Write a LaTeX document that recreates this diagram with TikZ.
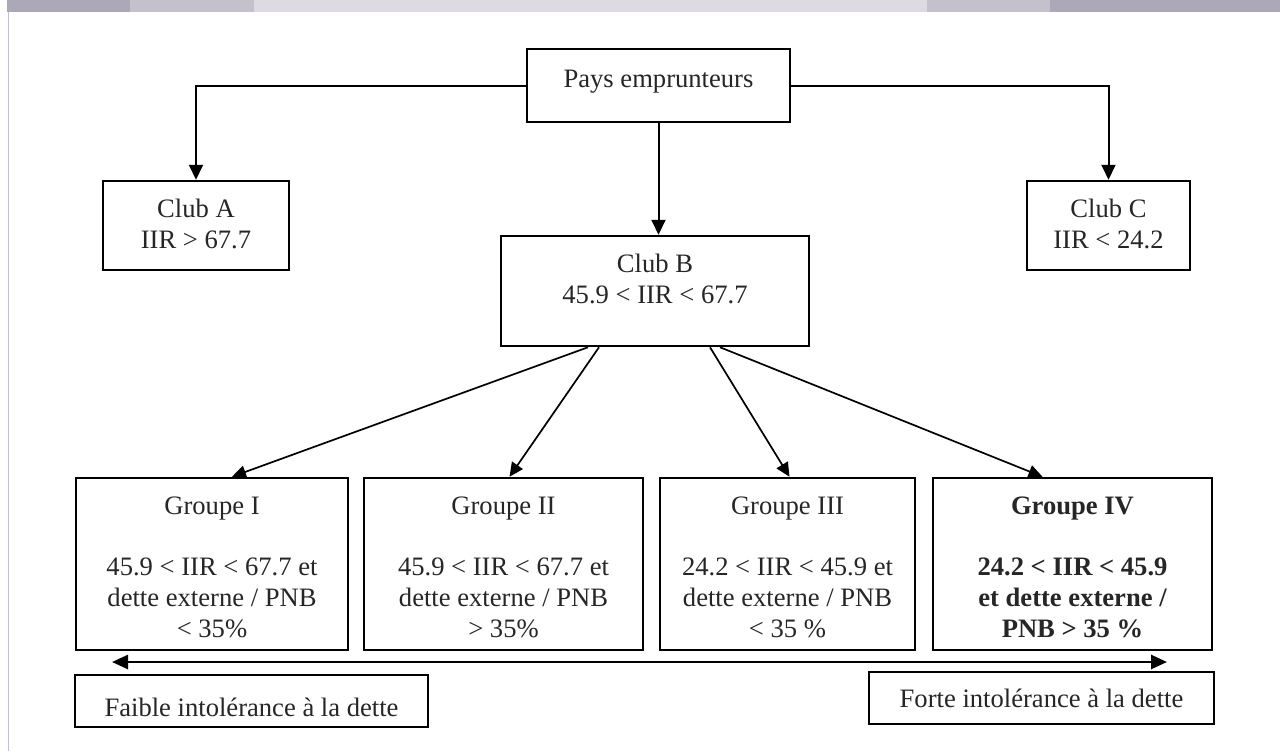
\documentclass[tikz,border=0pt]{standalone}
\usepackage{fontspec}
\setmainfont{Liberation Serif}
\usetikzlibrary{arrows.meta,calc}
\definecolor{bardark}{HTML}{ADA8B8}
\definecolor{barmid}{HTML}{C4C0CC}
\definecolor{barlight}{HTML}{DDDBE1}
\definecolor{textc}{HTML}{262626}
\newcommand\diagfont{\fontsize{13.3pt}{15.3pt}\selectfont}
\begin{document}
\begin{tikzpicture}[x=0.5pt,y=-0.5pt,
  box/.style={draw=black, line width=1.25pt, inner sep=0pt},
  txt/.style={inner sep=0pt, align=center, font=\diagfont, text=textc, anchor=base},
  conn/.style={line width=1pt, -{Triangle[length=7.5pt,width=7pt]}},
  conntwo/.style={line width=0.85pt, -{Triangle[length=7pt,width=6.5pt]}},
  scalearrow/.style={line width=1.3pt, {Triangle[length=8pt,width=7pt]}-{Triangle[length=8pt,width=7pt]}}]
\useasboundingbox (0,0) rectangle (1280,751);
\fill[white] (0,0) rectangle (1280,751);
% top bar and left rule
\fill[bardark] (7,0) rectangle (130,11.5);
\fill[barmid] (130,0) rectangle (254,11.5);
\fill[barlight] (254,0) rectangle (927,11.5);
\fill[barmid] (927,0) rectangle (1050,11.5);
\fill[bardark] (1050,0) rectangle (1280,11.5);
\draw[barmid, line width=0.8pt] (8.5,11.5) -- (8.5,751);

% boxes
\node[box, minimum width=131.5pt, minimum height=36.5pt] (pays) at (658.5,85.5) {};
\node[box, minimum width=93pt, minimum height=44.5pt] (clubA) at (196,225.5) {};
\node[box, minimum width=81.5pt, minimum height=44.5pt] (clubC) at (1108.5,225.5) {};
\node[box, minimum width=154pt, minimum height=55pt] (clubB) at (655,291) {};
\node[box, minimum width=136pt, minimum height=86pt] (g1) at (212,564) {};
\node[box, minimum width=139.5pt, minimum height=86pt] (g2) at (503.5,564) {};
\node[box, minimum width=127.5pt, minimum height=86pt] (g3) at (787.5,564) {};
\node[box, minimum width=139.5pt, minimum height=86pt] (g4) at (1072.5,564) {};
\node[box, minimum width=176.5pt, minimum height=26pt] (faible) at (251.5,701) {};
\node[box, minimum width=172.5pt, minimum height=26pt] (forte) at (1041.5,698) {};

% texts (base anchor = baseline of the last line)
\node[txt] (tpays) at (658.5,87) {Pays emprunteurs};
\node[txt] (tclubA) at (196,248) {Club A\\IIR > 67.7};
\node[txt] (tclubC) at (1108.5,248) {Club C\\IIR < 24.2};
\node[txt] (tclubB) at (655,303) {Club B\\45.9 < IIR < 67.7};
\node[txt] (tg1) at (212,637) {Groupe I\\[15.3pt]45.9 < IIR < 67.7 et\\dette externe / PNB\\< 35\%};
\node[txt] (tg2) at (503.5,637) {Groupe II\\[15.3pt]45.9 < IIR < 67.7 et\\dette externe / PNB\\> 35\%};
\node[txt] (tg3) at (787.5,637) {Groupe III\\[15.3pt]24.2 < IIR < 45.9 et\\dette externe / PNB\\< 35 \%};
\node[txt, font=\diagfont\bfseries] (tg4) at (1072.5,637) {Groupe IV\\[15.3pt]24.2 < IIR < 45.9\\et dette externe /\\PNB > 35 \%};
\node[txt] (tfaible) at (251.5,716) {Faible intolérance à la dette};
\node[txt] (tforte) at (1041.5,707) {Forte intolérance à la dette};

% connectors
\draw[conn] (pays.west) -| (clubA.north);
\draw[conn] (pays.east) -| (clubC.north);
\draw[conn] (pays.south) -- (pays.south |- clubB.north);
\draw[conntwo] ($(clubB.south)+(-67,0)$) -- ($(g1.north)+(20,0)$);
\draw[conntwo] ($(clubB.south)+(-56,0)$) -- ($(g2.north)+(6,0)$);
\draw[conntwo] ($(clubB.south)+(55,0)$) -- ($(g3.north)+(2,0)$);
\draw[conntwo] ($(clubB.south)+(65,0)$) -- ($(g4.north)+(-30,0)$);

\coordinate (la) at (112,662);
\coordinate (ra) at (1167,662);
\draw[scalearrow] (la) -- (ra);
\end{tikzpicture}
\end{document}
